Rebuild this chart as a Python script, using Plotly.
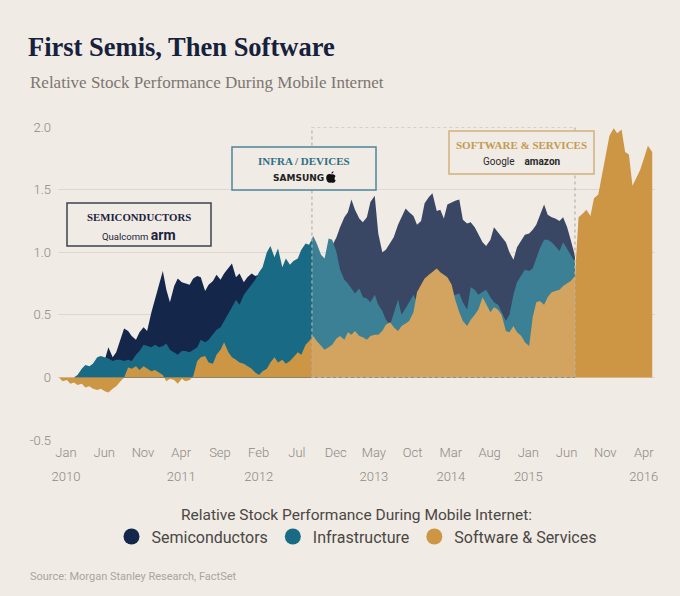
import pandas as pd
import plotly.graph_objects as go

# semi-monthly observations (1st and 15th), Jan 2010 onwards
dates = pd.date_range("2010-01-01", periods=155, freq="SMS")

software = [
    0.0, -0.03, -0.02, -0.05, -0.04, -0.06, -0.05, -0.08, -0.07, -0.09,
    -0.10, -0.09, -0.11, -0.12, -0.09, -0.07, -0.03, 0.0, 0.08, 0.07,
    0.09, 0.06, 0.09, 0.07, 0.05, 0.06, 0.04, 0.02, -0.03, -0.01,
    -0.02, -0.05, -0.01, -0.03, -0.02, 0.01, 0.13, 0.16, 0.17, 0.12,
    0.11, 0.18, 0.22, 0.28, 0.20, 0.16, 0.14, 0.12, 0.11, 0.09,
    0.07, 0.04, 0.02, 0.05, 0.07, 0.12, 0.16, 0.12, 0.14, 0.11,
    0.13, 0.16, 0.20, 0.18, 0.26, 0.29, 0.33, 0.29, 0.25, 0.22,
    0.24, 0.26, 0.31, 0.33, 0.30, 0.36, 0.34, 0.37, 0.33, 0.32,
    0.30, 0.33, 0.34, 0.34, 0.37, 0.42, 0.44, 0.40, 0.37, 0.41,
    0.43, 0.45, 0.52, 0.68, 0.74, 0.79, 0.82, 0.84, 0.87, 0.84,
    0.82, 0.80, 0.74, 0.62, 0.52, 0.45, 0.41, 0.46, 0.50, 0.54,
    0.64, 0.58, 0.52, 0.56, 0.54, 0.50, 0.37, 0.36, 0.41, 0.36,
    0.33, 0.28, 0.25, 0.48, 0.60, 0.61, 0.58, 0.64, 0.68, 0.69,
    0.70, 0.73, 0.75, 0.77, 0.81, 1.28, 1.31, 1.34, 1.29, 1.43,
    1.46, 1.60, 1.78, 1.93, 1.99, 1.95, 1.98, 1.80, 1.78, 1.53,
    1.60, 1.66, 1.76, 1.85, 1.80,
]

infra = [
    0.0, 0.0, 0.0, 0.0, 0.0, 0.02, 0.07, 0.10, 0.09, 0.11,
    0.16, 0.17, 0.16, 0.15, 0.13, 0.14, 0.14, 0.13, 0.14, 0.13,
    0.18, 0.21, 0.26, 0.25, 0.24, 0.26, 0.24, 0.25, 0.27, 0.22,
    0.20, 0.18, 0.21, 0.21, 0.20, 0.22, 0.24, 0.30, 0.28, 0.30,
    0.34, 0.38, 0.40, 0.45, 0.50, 0.56, 0.62, 0.58, 0.66, 0.70,
    0.74, 0.78, 0.84, 0.88, 1.00, 1.05, 0.96, 1.03, 0.88, 0.95,
    0.90, 0.93, 0.95, 1.02, 1.07, 1.06, 1.13, 1.07, 0.98, 0.95,
    1.11, 1.10, 1.00, 0.86, 0.78, 0.75, 0.71, 0.67, 0.71, 0.64,
    0.63, 0.60, 0.66, 0.58, 0.53, 0.46, 0.42, 0.52, 0.62, 0.50,
    0.55, 0.60, 0.66, 0.60, 0.65, 0.68, 0.70, 0.72, 0.74, 0.72,
    0.70, 0.66, 0.64, 0.66, 0.67, 0.60, 0.54, 0.72, 0.70, 0.66,
    0.68, 0.70, 0.64, 0.60, 0.58, 0.52, 0.45, 0.50, 0.66, 0.76,
    0.82, 0.86, 0.85, 0.87, 0.95, 1.03, 1.10, 1.10, 1.08, 1.05,
    1.01, 1.08, 1.03, 0.98, 0.92,
]

semis = [
    0.0, 0.0, 0.0, 0.0, 0.0, 0.01, 0.04, 0.06, 0.07, 0.08,
    0.10, 0.12, 0.14, 0.24, 0.16, 0.20, 0.30, 0.39, 0.37, 0.33,
    0.30, 0.36, 0.40, 0.37, 0.52, 0.62, 0.74, 0.85, 0.70, 0.60,
    0.73, 0.79, 0.76, 0.75, 0.74, 0.79, 0.81, 0.80, 0.69, 0.74,
    0.77, 0.82, 0.78, 0.83, 0.87, 0.91, 0.80, 0.83, 0.76, 0.80,
    0.83, 0.81, 0.82, 0.80, 0.83, 0.86, 0.85, 0.84, 0.83, 0.86,
    0.85, 0.88, 0.90, 0.92, 0.90, 0.95, 0.93, 0.90, 0.92, 0.94,
    1.00, 1.05, 1.12, 1.20, 1.28, 1.32, 1.42, 1.34, 1.27, 1.24,
    1.28, 1.40, 1.45, 1.15, 1.00, 1.02, 1.08, 1.12, 1.22, 1.28,
    1.35, 1.32, 1.29, 1.22, 1.25, 1.39, 1.44, 1.47, 1.33, 1.34,
    1.27, 1.38, 1.40, 1.41, 1.42, 1.26, 1.23, 1.24, 1.20, 1.14,
    1.08, 1.05, 1.10, 1.20, 1.16, 1.13, 1.08, 1.00, 0.94, 1.04,
    1.10, 1.14, 1.15, 1.18, 1.22, 1.30, 1.38, 1.30, 1.28, 1.27,
    1.25, 1.28, 1.20, 1.10, 0.97,
]

month_ticks = pd.date_range("2010-01-01", "2016-04-01", freq="5MS")
month_labels = ["Jan", "Jun", "Nov", "Apr", "Sep", "Feb", "Jul", "Dec",
                "May", "Oct", "Mar", "Aug", "Jan", "Jun", "Nov", "Apr"]
year_ticks = ["2010-01-01", "2011-04-01", "2012-02-01", "2013-05-01",
              "2014-03-01", "2015-01-01", "2016-04-01"]
year_labels = ["2010", "2011", "2012", "2013", "2014", "2015", "2016"]

y_ticks = [-0.5, 0, 0.5, 1.0, 1.5, 2.0]
y_labels = ["-0.5", "0", "0.5", "1.0", "1.5", "2.0"]

phase_start = "2012-09-26"   # start of the shaded phase
x_range = ["2009-12-28", "2016-06-12"]

BG = "#f0ebe4"
NAVY = "#14264a"
TEAL = "#186a85"
GOLD = "#cc9644"

# figure is 680x596 with plot area 58..655 x 127..440 (px)
def px(x):
    return (x - 58) / 597

def py(y):
    return (440 - y) / 313

fig = go.Figure()
fig.add_trace(go.Scatter(x=dates[:len(semis)], y=semis, fill="tozeroy", mode="lines",
                         line=dict(width=0), fillcolor=NAVY, showlegend=False, hoverinfo="skip"))
fig.add_trace(go.Scatter(x=dates[:len(infra)], y=infra, fill="tozeroy", mode="lines",
                         line=dict(width=0), fillcolor=TEAL, showlegend=False, hoverinfo="skip"))
fig.add_trace(go.Scatter(x=dates, y=software, fill="tozeroy", mode="lines",
                         line=dict(width=0), fillcolor=GOLD, showlegend=False, hoverinfo="skip"))

# legend entries as round markers
for name, col in [("Semiconductors", NAVY), ("Infrastructure", TEAL), ("Software & Services", GOLD)]:
    fig.add_trace(go.Scatter(x=[None], y=[None], mode="markers", name=name,
                             marker=dict(size=17, color=col, symbol="circle")))

# dummy trace so the year axis is drawn
fig.add_trace(go.Scatter(x=[dates[0]], y=[0], xaxis="x2", mode="markers",
                         marker=dict(opacity=0), showlegend=False, hoverinfo="skip"))

# shaded phase with dashed outline
fig.add_shape(type="rect", xref="x", yref="y", x0=phase_start, x1=dates[len(semis) - 1],
              y0=0, y1=2.0, fillcolor="rgba(242,237,231,0.17)", layer="above",
              line=dict(color="#b8b1a8", width=1.2, dash="3px,3px"))

# label boxes: (left, right, top, bottom, border colour)
boxes = [(67, 211, 203, 246, "#3d4150"),
         (232, 376, 147, 190, "#4b8599"),
         (449, 594, 131, 174, "#d2b07a")]
for x0, x1, y0, y1, col in boxes:
    fig.add_shape(type="rect", xref="paper", yref="paper", x0=px(x0), x1=px(x1),
                  y0=py(y1), y1=py(y0), fillcolor=BG, layer="above",
                  line=dict(color=col, width=1.5))

def label(x, y, text, size, color, family="Liberation Serif"):
    fig.add_annotation(xref="paper", yref="paper", x=px(x), y=py(y), xanchor="center",
                       yanchor="middle", showarrow=False, text=text,
                       font=dict(family=family, size=size, color=color))

label(139, 217, "<b>SEMICONDUCTORS</b>", 10.8, "#1c2340")
label(139, 235, "<span style='font-size:9.5px'>Qualcomm</span> <b style='font-size:14px'>arm</b>",
      10, "#1c2340", family="Roboto")
label(304, 161, "<b>INFRA / DEVICES</b>", 11, "#2c6f87")
label(298, 178, "<b>SAMSUNG</b>", 9, "#222222", family="DejaVu Sans")
label(521.5, 145, "<b>SOFTWARE &amp; SERVICES</b>", 11, "#c49a52")
label(521.5, 161, "Google    <b>amazon</b>", 10, "#2a2a2a", family="Roboto")

# apple glyph next to SAMSUNG
fig.add_shape(type="path", xref="paper", yref="paper", xsizemode="pixel", ysizemode="pixel",
              xanchor=px(331), yanchor=py(178),
              path="M 0 3.5 C -1.5 4.3 -4.8 4.2 -4.8 0.2 C -4.8 -3.5 -2.5 -5.5 0 -4.6 "
                   "C 2.5 -5.5 4.2 -4 4.7 -2.5 C 3.2 -1.8 3.2 0.8 4.5 1.8 C 4 3.5 2 4.3 0 3.5 Z "
                   "M 0.3 4.3 C 0.3 5.8 1.8 6.8 2.6 6.8 C 2.6 5.4 1.4 4.4 0.3 4.3 Z",
              fillcolor="#111111", line=dict(width=0), layer="above")

tick_font = dict(family="Roboto", size=13, color="#8e8984", weight=300)

fig.update_layout(
    width=680, height=596,
    paper_bgcolor=BG, plot_bgcolor=BG,
    margin=dict(l=58, r=25, t=127, b=156),
    font=dict(family="Roboto", color="#4a4744"),
    title=dict(text="First Semis, Then Software", x=28 / 680, xanchor="left",
               y=1 - 47 / 596, yanchor="middle", xref="container", yref="container",
               font=dict(family="Liberation Serif", size=26.5, color="#15213d", weight="bold")),
    xaxis=dict(type="date", range=x_range, tickvals=month_ticks, ticktext=month_labels,
               showgrid=False, zeroline=False, ticks="", tickfont=tick_font,
               ticklabelshift=7, ticklabelstandoff=3, showline=False),
    xaxis2=dict(type="date", range=x_range, overlaying="x", anchor="y", side="bottom",
                tickvals=year_ticks, ticktext=year_labels, showgrid=False, zeroline=False,
                ticks="", tickfont=tick_font, ticklabelshift=7, ticklabelstandoff=27,
                showline=False),
    yaxis=dict(range=[-0.5, 2.0], tickvals=y_ticks, ticktext=y_labels, showgrid=True,
               gridcolor="#ddd7cf", gridwidth=1, zeroline=False, ticks="",
               tickfont=tick_font, ticklabelstandoff=6),
    legend=dict(orientation="h", x=0.5, xanchor="center", y=-0.19, yanchor="top",
                font=dict(family="Roboto", size=16, color="#4a4744"),
                title=dict(text="Relative Stock Performance During Mobile Internet:",
                           side="top center",
                           font=dict(family="Roboto", size=15.5, color="#4a4744")),
                itemwidth=30, tracegroupgap=0, bgcolor="rgba(0,0,0,0)"),
    showlegend=True,
)

fig.add_annotation(xref="paper", yref="paper", x=px(28), y=py(82),
                   xanchor="left", yanchor="middle", showarrow=False,
                   text="Relative Stock Performance During Mobile Internet",
                   font=dict(family="Liberation Serif", size=17, color="#7b7671"))
fig.add_annotation(xref="paper", yref="paper", x=px(28), y=py(576),
                   xanchor="left", yanchor="middle", showarrow=False,
                   text="Source: Morgan Stanley Research, FactSet",
                   font=dict(family="Roboto", size=11, color="#aaa59f"))

fig.write_html("out.html", config={"displayModeBar": False},
               post_script="document.body.style.margin='0';")
